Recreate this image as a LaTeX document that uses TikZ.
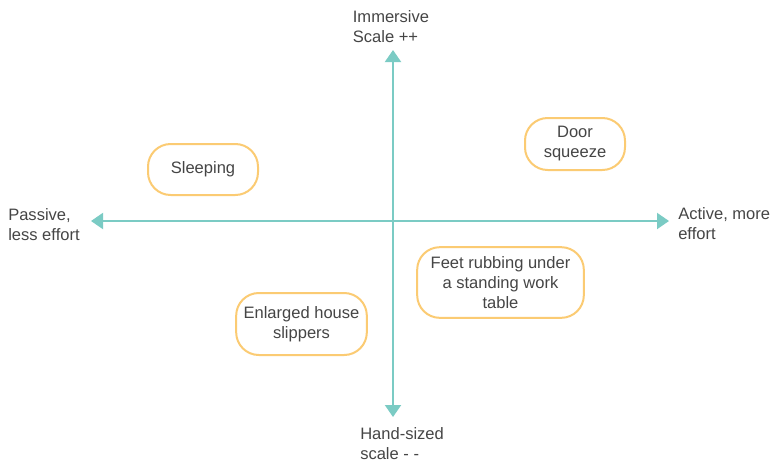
\documentclass[tikz,border=0pt]{standalone}
\usepackage{fontspec}
\setmainfont{Liberation Sans}
\usepackage{xcolor}
\usetikzlibrary{arrows.meta,positioning}
\definecolor{axisteal}{HTML}{7BCBC4}
\definecolor{idearim}{HTML}{FBCB73}
\definecolor{labelgray}{HTML}{454545}
\tikzset{idea/.style={rectangle, rounded corners=17pt, draw=idearim, line width=1.5pt,
              fill=white, align=center, inner sep=2pt, text=labelgray}}

\begin{document}
\begin{tikzpicture}[x=0.75pt, y=-0.75pt,
  font=\fontsize{12.4}{15}\selectfont,
  axis/.style={{Triangle[length=9pt, width=12pt]}-{Triangle[length=9pt, width=12pt]},
               line width=1.5pt, draw=axisteal},
  pole/.style={align=left, inner sep=0pt, text=labelgray},
]
  \useasboundingbox (0,0) rectangle (770,465);

  % ---- Axes ----
  \coordinate (west) at (91,221);
  \coordinate (east) at (669,221);
  \coordinate (north) at (393,50);
  \coordinate (south) at (393,417);
  \draw[axis] (west) -- (east);
  \draw[axis] (north) -- (south);

  % ---- Pole labels ----
  \node[pole] (immersive) at (391,26.7) {Immersive\\Scale ++};
  \node[pole, anchor=west] (passive) at (8,224.5) {Passive,\\less effort};
  \node[pole, anchor=west] (active) at (678,223.5) {Active, more\\effort};
  \node[pole, anchor=west] (handsized) at (360,444) {Hand-sized\\scale - -};

  % ---- Ideas ----
  \node[idea, minimum width=82.5pt, minimum height=38.25pt] (sleeping)
      at (203,169.5) {Sleeping};
  \node[idea, minimum width=75pt, minimum height=39pt] (door)
      at (575,144) {Door\\squeeze};
  \node[idea, minimum width=125pt, minimum height=53pt] (feet)
      at (500.5,282.5) {Feet rubbing under\\a standing work\\table};
  \node[idea, minimum width=98pt, minimum height=46.5pt] (slippers)
      at (301.5,324) {Enlarged house\\slippers};
\end{tikzpicture}
\end{document}
